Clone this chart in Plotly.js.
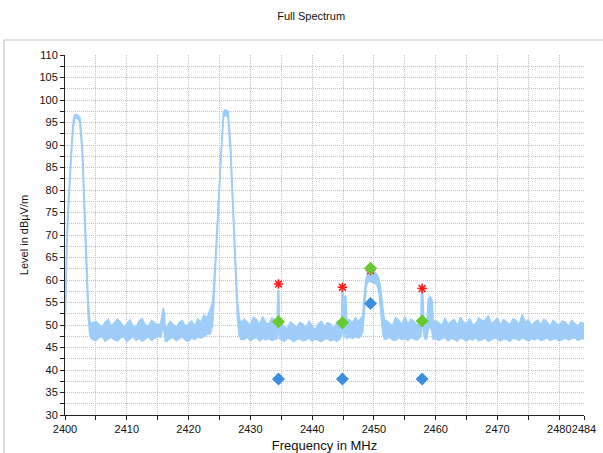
<!DOCTYPE html>
<html>
<head>
<meta charset="utf-8">
<script src="https://cdn.plot.ly/plotly-3.0.1.min.js"></script>
<style>
  html, body { margin: 0; padding: 0; background: #fff; }
  #chart { width: 603px; height: 453px; }
</style>
</head>
<body>
<div id="chart"></div>
<script>
// Measured spectrum, 2400-2484 MHz: max / min level envelope of the trace (dBµV/m)
const freqMHz = [
  2400, 2400.1, 2400.35, 2400.65, 2400.9, 2401.1, 2401.35, 2401.55, 2401.8, 2402.1, 2402.4, 2402.6, 2402.8, 2403.05, 2403.3, 2403.5, 2403.75, 2404.0, 2404.25, 2404.5,
  2405, 2405.5, 2406, 2406.5, 2407, 2407.5, 2408, 2408.5, 2409, 2409.5, 2410, 2410.5, 2411, 2411.5, 2412, 2412.5, 2413, 2413.5, 2414, 2414.5, 2415, 2415.5,
  2415.7, 2415.9, 2416.1, 2416.25, 2416.4,
  2416.5, 2417, 2417.5, 2418, 2418.5, 2419, 2419.5, 2420, 2420.5, 2421, 2421.5, 2422, 2422.5, 2423,
  2423.5, 2423.9, 2424.15, 2424.55, 2424.9, 2425.25, 2425.45, 2425.65, 2425.9, 2426.15, 2426.4, 2426.6, 2426.8, 2427.1, 2427.4, 2427.65, 2427.9, 2428.2, 2428.5,
  2429, 2429.5, 2430, 2430.5, 2431, 2431.5, 2432, 2432.5, 2433, 2433.5, 2434,
  2434.35, 2434.45, 2434.6, 2434.7,
  2435, 2435.5, 2436, 2436.5, 2437, 2437.5, 2438, 2438.5, 2439, 2439.5, 2440, 2440.5, 2441, 2441.5, 2442, 2442.5, 2443, 2443.5, 2444, 2444.5,
  2444.75, 2444.85, 2445.0, 2445.15, 2445.3, 2445.45, 2445.6,
  2446, 2446.5, 2447, 2447.5, 2447.9,
  2448.2, 2448.35, 2448.55, 2448.75, 2448.95, 2449.3, 2449.7, 2450.1, 2450.5, 2450.8, 2451.05, 2451.25, 2451.45, 2451.7,
  2452, 2452.5, 2453, 2453.5, 2454, 2454.5, 2455, 2455.5, 2456, 2456.5, 2457, 2457.5,
  2457.6, 2457.7, 2457.9, 2458.05, 2458.3, 2458.55, 2458.8, 2459.1, 2459.4, 2459.6,
  2460, 2460.5, 2461, 2461.5, 2462, 2462.5, 2463, 2463.5, 2464, 2464.5, 2465, 2465.5, 2466, 2466.5, 2467, 2467.5,
  2468, 2468.5, 2469, 2469.5, 2470, 2470.5, 2471, 2471.5, 2472, 2472.5, 2473, 2473.5, 2474, 2474.5, 2475, 2475.5,
  2476, 2476.5, 2477, 2477.5, 2478, 2478.5, 2479, 2479.5, 2480, 2480.5, 2481, 2481.5, 2482, 2482.5, 2483, 2483.5, 2484
];
const levelMax = [
  52, 60, 72, 80, 87, 91, 95.5, 96.7, 96.8, 96.6, 96.2, 93, 90, 81, 71, 61, 55.5, 51, 50, 50.5,
  50.8, 50.1, 49.4, 50.6, 51.2, 49.7, 50.4, 51.3, 50.6, 49.5, 50.2, 51.1, 49.8, 49.5, 50.9, 51.4, 50.0, 49.6, 51.0, 50.5, 49.9, 50.4,
  52, 53.8, 52.5, 48.5, 49.5,
  49.6, 50.8, 50.2, 49.4, 50.6, 51.0, 49.6, 50.3, 50.9, 49.7, 51.3, 50.6, 52.2, 51.6,
  53.5, 55, 60, 70, 80, 90, 95, 97.5, 97.8, 97.7, 97.4, 94, 90, 80, 70, 60, 55.5, 51.5, 50.5,
  51.3, 50.6, 49.9, 51.7, 51.2, 50.1, 51.9, 50.4, 50.2, 51.6, 50.9,
  50.5, 57.5, 57.8, 50.5,
  50.4, 49.6, 49.2, 50.7, 50.1, 49.4, 50.6, 50.2, 49.3, 50.9, 49.7, 49.0, 50.3, 50.8, 49.6, 50.5, 50.2, 49.2, 50.6, 51.0,
  51, 57.8, 57.5, 51.5, 56.5, 56.2, 51,
  51.2, 50.4, 51.6, 50.8, 51.5,
  52, 55.5, 58.5, 60.5, 61.3, 61.8, 61.5, 61.7, 61.2, 60.3, 58.5, 56, 52.5, 50.8,
  51.0, 50.3, 49.8, 51.6, 51.1, 50.0, 51.8, 50.2, 51.3, 50.7, 49.9, 51.0,
  51, 57.2, 57.4, 52, 48.5, 50, 55.8, 56.3, 55.5, 50.5,
  51.0, 50.4, 49.9, 51.5, 50.1, 50.8, 51.2, 49.8, 51.7, 50.6, 50.2, 51.4, 49.9, 50.3, 51.6, 50.9,
  51.0, 52.1, 50.2, 50.8, 51.5, 49.9, 51.2, 50.6, 50.0, 51.3, 51.0, 50.1, 52.3, 50.5, 51.2, 49.8,
  50.6, 51.1, 50.0, 51.3, 50.7, 49.7, 51.0, 50.4, 49.9, 50.9, 50.6, 49.6, 51.0, 50.3, 49.7, 50.6, 50.3
];
const levelMin = [
  49, 56, 69, 78, 85, 89.5, 94, 95.8, 96, 95.8, 95, 91.5, 88, 78, 68, 58, 52, 48, 47, 46.8,
  46.6, 47.2, 47.5, 46.4, 46.9, 47.3, 46.7, 46.5, 47.2, 47.4, 46.3, 46.8, 47.5, 46.6, 47.1, 46.4, 46.9, 47.4, 46.6, 47.0, 47.5, 47.3,
  48.5, 50, 48, 46.3, 46.5,
  46.4, 47.0, 47.3, 46.5, 46.9, 47.4, 46.6, 46.4, 47.2, 46.8, 47.4, 47.1, 47.5, 48.0,
  48, 50, 57, 67, 78, 88, 93, 96.2, 96.6, 96.5, 96, 92, 88, 78, 67.5, 57.5, 52, 47.5, 46.8,
  46.8, 47.3, 46.6, 46.9, 47.3, 46.5, 47.1, 46.7, 47.0, 46.6, 46.9,
  47, 50, 50, 47,
  46.7, 46.4, 47.1, 46.9, 46.3, 46.8, 47.0, 46.5, 46.7, 47.1, 46.4, 46.9, 46.6, 46.3, 46.9, 47.0, 46.5, 46.8, 46.4, 46.9,
  47.5, 50, 49.5, 47, 49, 48.5, 47,
  47.4, 47.0, 47.5, 47.1, 47.6,
  48.5, 51, 55.5, 58.5, 59.5, 59.8, 59.5, 59.3, 59.0, 57.5, 54.5, 51, 48, 46.8,
  46.9, 47.3, 46.7, 46.6, 47.2, 46.8, 47.0, 46.6, 47.3, 46.9, 46.7, 47.4,
  47.5, 50.5, 50.5, 48, 46.8, 47, 49, 50, 48.5, 46.8,
  47.0, 46.6, 46.9, 47.3, 46.5, 47.1, 46.8, 46.4, 47.2, 46.9, 46.5, 47.0, 46.7, 47.2, 46.5, 46.8,
  47.1, 46.4, 46.7, 47.2, 46.9, 46.5, 47.0, 46.8, 46.4, 47.1, 46.9, 46.6, 47.2, 46.8, 46.5, 47.0,
  46.7, 47.1, 46.6, 46.8, 47.2, 46.6, 46.9, 47.0, 46.5, 46.8, 47.1, 46.7, 46.9, 47.2, 46.6, 46.9, 47.0
];

// Detected signals: peak, quasi-peak and average readings
const markerFreq = [2434.55, 2444.9, 2449.45, 2457.8];
const peakLevel  = [59.1, 58.4, 62.1, 58.1];
const qpLevel    = [50.7, 50.5, 62.6, 50.9];
const avgLevel   = [38.0, 38.0, 54.8, 38.0];

// Axis ticks
const xTickVals = [2400, 2410, 2420, 2430, 2440, 2450, 2460, 2470, 2480, 2484];
const xTickText = ['2400', '2410', '2420', '2430', '2440', '2450', '2460', '2470', '2480', '2484'];

const FONT = 'Liberation Sans, Arial, sans-serif';
const TRACE_COLOR = '#9dcdf8';
const GRID = '#c2c2c2';
const GRID_DASH = '1px,1px';

const traces = [
  { x: freqMHz, y: levelMax, type: 'scatter', mode: 'lines',
    line: { color: TRACE_COLOR, width: 1.6 }, hoverinfo: 'skip' },
  { x: freqMHz, y: levelMin, type: 'scatter', mode: 'lines', fill: 'tonexty',
    fillcolor: TRACE_COLOR, line: { color: TRACE_COLOR, width: 1.6 }, hoverinfo: 'skip' },
  { x: markerFreq, y: peakLevel, type: 'scatter', mode: 'markers',
    marker: { symbol: 'asterisk-open', size: 8, color: '#ff1a1a', line: { color: '#ff1a1a', width: 1.6 } } },
  { x: markerFreq, y: avgLevel, type: 'scatter', mode: 'markers',
    marker: { symbol: 'diamond', size: 10, color: '#3b8fdc' } },
  { x: markerFreq, y: qpLevel, type: 'scatter', mode: 'markers',
    marker: { symbol: 'diamond', size: 10, color: '#66c92e' } }
];

const tickFont = { family: FONT, size: 11, color: '#111' };

const layout = {
  width: 603, height: 453,
  margin: { l: 65, r: 19, t: 55, b: 38, pad: 0 },
  paper_bgcolor: '#ffffff', plot_bgcolor: '#ffffff',
  showlegend: false,
  title: { text: 'Full Spectrum', font: { family: FONT, size: 11, color: '#111' },
           xref: 'container', yref: 'container', x: 0.516, y: 0.965, xanchor: 'center', yanchor: 'middle' },
  xaxis: {
    range: [2400, 2484], tickmode: 'array', tickvals: xTickVals, ticktext: xTickText, tickangle: 0,
    ticks: 'outside', ticklen: 4, tickcolor: '#222', tickwidth: 1,
    showline: true, linecolor: '#222', linewidth: 1, zeroline: false,
    showgrid: true, gridcolor: GRID, griddash: GRID_DASH, gridwidth: 1,
    minor: { tickmode: 'linear', tick0: 2400, dtick: 5, ticks: 'outside', ticklen: 4, tickcolor: '#222',
             showgrid: true, gridcolor: GRID, griddash: GRID_DASH, gridwidth: 1 },
    tickfont: tickFont,
    title: { text: 'Frequency in MHz', font: { family: FONT, size: 13, color: '#111' }, standoff: 11 }
  },
  yaxis: {
    range: [30, 110], tickmode: 'linear', tick0: 30, dtick: 5,
    ticks: 'outside', ticklen: 4, tickcolor: '#222', tickwidth: 1,
    showline: true, linecolor: '#222', linewidth: 1, zeroline: false,
    showgrid: true, gridcolor: GRID, griddash: GRID_DASH, gridwidth: 1,
    minor: { tickmode: 'linear', tick0: 30, dtick: 2.5, ticks: 'outside', ticklen: 4, tickcolor: '#222',
             showgrid: true, gridcolor: GRID, griddash: GRID_DASH, gridwidth: 1 },
    tickfont: tickFont, ticklabelstandoff: 0,
    title: { text: 'Level in dBµV/m', font: { family: FONT, size: 11, color: '#111' }, standoff: 8 }
  },
  // inner halves of the crossing tick marks
  xaxis2: {
    overlaying: 'x', anchor: 'y', range: [2400, 2484], tickmode: 'linear', tick0: 2400, dtick: 5,
    ticks: 'inside', ticklen: 3, tickcolor: '#222', showticklabels: false, showgrid: false,
    zeroline: false, showline: false
  },
  yaxis2: {
    overlaying: 'y', anchor: 'x', side: 'left', range: [30, 110], tickmode: 'linear', tick0: 30, dtick: 2.5,
    ticks: 'inside', ticklen: 3, tickcolor: '#222', showticklabels: false, showgrid: false,
    zeroline: false, showline: false
  },
  shapes: [
    { type: 'rect', xref: 'paper', yref: 'paper', x0: -0.1175, x1: 1.06, y0: -0.2, y1: 1.0417,
      line: { color: '#c6c6c6', width: 1.2 }, fillcolor: 'rgba(0,0,0,0)', layer: 'below' }
  ]
};

Plotly.newPlot('chart', traces, layout, { staticPlot: true, displayModeBar: false });
</script>
</body>
</html>
